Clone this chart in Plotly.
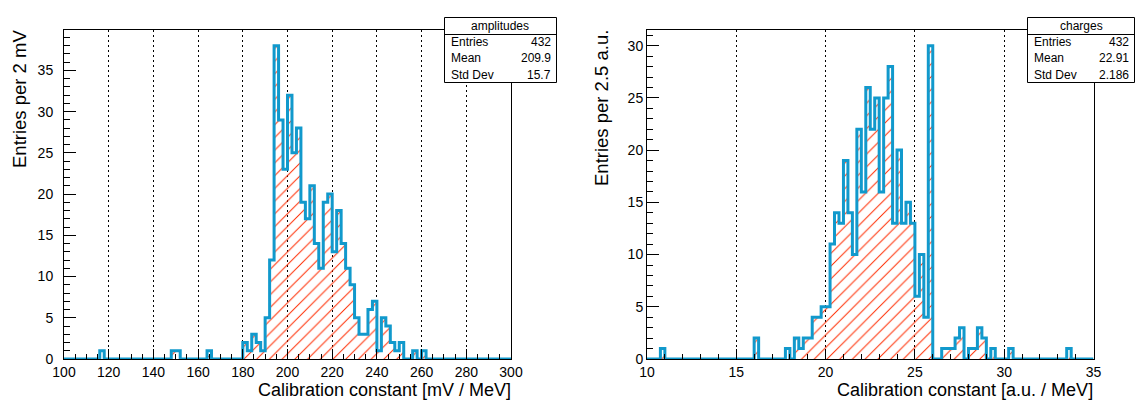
import plotly.graph_objects as go

W, H = 1135, 401
FONT = "Liberation Sans, Arial, Helvetica, sans-serif"
BLUE = "#1199cc"
HATCH = "#ff2a00"

# ---------------- data ----------------
amp_lo = 100.0
amp_bin = 2.0
amp_counts = [
    0, 0, 0, 0, 0, 0, 0, 0, 1, 0,
    0, 0, 0, 0, 0, 0, 0, 0, 0, 0,
    0, 0, 0, 0, 1, 1, 0, 0, 0, 0,
    0, 0, 1, 0, 0, 0, 0, 0, 0, 0,
    2, 1, 3, 2, 1, 5, 12, 38, 29, 23,
    32, 25, 28, 19, 17, 21, 14, 11, 19, 20,
    13, 18, 14, 11, 9, 5, 3, 3, 6, 7,
    1, 5, 4, 2, 1, 2, 0, 0, 1, 0,
    1, 0, 0, 0, 0, 0, 0, 0, 0, 0,
    0, 0, 0, 0, 0, 0, 0, 0, 0, 0,
]
amp_stats = ["amplitudes", "432", "209.9", "15.7"]

chg_lo = 10.0
chg_bin = 0.25
chg_counts = [
    0, 0, 0, 1, 0, 0, 0, 0, 0, 0,
    0, 0, 0, 0, 0, 0, 0, 0, 0, 0,
    0, 0, 0, 0, 2, 0, 0, 0, 0, 0,
    0, 1, 0, 2, 1, 2, 2, 4, 4, 5,
    5, 11, 14, 13, 19, 14, 10, 22, 16, 26,
    22, 25, 16, 25, 28, 13, 20, 13, 15, 13,
    6, 10, 4, 30, 0, 0, 1, 1, 1, 2,
    3, 0, 1, 1, 3, 2, 0, 1, 0, 0,
    0, 1, 0, 0, 0, 0, 0, 0, 0, 0,
    0, 0, 0, 0, 1, 0, 0, 0, 0, 0,
]
chg_stats = ["charges", "432", "22.91", "2.186"]

amp_xtitle = "Calibration constant [mV / MeV]"
amp_ytitle = "Entries per 2 mV"
chg_xtitle = "Calibration constant [a.u. / MeV]"
chg_ytitle = "Entries per 2.5 a.u."
stat_labels = ["Entries", "Mean", "Std Dev"]


def px(p):
    return p / W


def py(p):
    return 1 - p / H


fig = go.Figure()

panels = [
    dict(lo=amp_lo, w=amp_bin, counts=amp_counts, xa="x", ya="y"),
    dict(lo=chg_lo, w=chg_bin, counts=chg_counts, xa="x2", ya="y2"),
]
for p in panels:
    n = len(p["counts"])
    centers = [p["lo"] + (i + 0.5) * p["w"] for i in range(n)]
    fig.add_trace(go.Bar(
        x=centers, y=p["counts"], width=p["w"], xaxis=p["xa"], yaxis=p["ya"],
        marker=dict(color="rgba(255,255,255,0)", line=dict(width=0),
                    pattern=dict(shape="/", fgcolor=HATCH, bgcolor="rgba(255,255,255,0)",
                                 size=9, solidity=0.11, fillmode="replace")),
        hoverinfo="skip", showlegend=False))
    edges = [p["lo"] + i * p["w"] for i in range(n + 1)]
    ys = list(p["counts"]) + [p["counts"][-1]]
    fig.add_trace(go.Scatter(
        x=edges, y=ys, mode="lines", xaxis=p["xa"], yaxis=p["ya"],
        line=dict(shape="hv", color=BLUE, width=3),
        hoverinfo="skip", showlegend=False))

tickfont = dict(family=FONT, size=14, color="black")
base_x = dict(showline=True, linecolor="black", linewidth=1, mirror=True,
              ticks="inside", tickcolor="black", ticklen=10, tickwidth=1,
              showgrid=True, gridcolor="black", gridwidth=1, griddash="2px,3px",
              zeroline=False, tickfont=tickfont, tickmode="linear",
              fixedrange=True, automargin=False)
base_y = dict(showline=True, linecolor="black", linewidth=1, mirror=True,
              ticks="inside", tickcolor="black", ticklen=12, tickwidth=1,
              showgrid=False, zeroline=False, tickfont=tickfont, tickmode="linear",
              tick0=0, dtick=5, fixedrange=True, automargin=False)

top, bot = 30, 359
fig.update_layout(
    width=W, height=H, margin=dict(l=0, r=0, t=0, b=0, autoexpand=False),
    paper_bgcolor="white", plot_bgcolor="white", bargap=0, barmode="overlay",
    xaxis=dict(base_x, domain=[px(64), px(511)], range=[100, 300], tick0=100, dtick=20,
               anchor="y",
               minor=dict(ticks="inside", ticklen=5, tickcolor="black", dtick=5, showgrid=False)),
    yaxis=dict(base_y, domain=[py(bot), py(top)], range=[0, 39.9], anchor="x",
               ticklabelstandoff=7,
               minor=dict(ticks="inside", ticklen=6, tickcolor="black", dtick=1, showgrid=False)),
    xaxis2=dict(base_x, domain=[px(647), px(1093.5)], range=[10, 35], tick0=10, dtick=5,
                anchor="y2",
                minor=dict(ticks="inside", ticklen=5, tickcolor="black", dtick=1, showgrid=False)),
    yaxis2=dict(base_y, domain=[py(bot), py(top)], range=[0, 31.5], anchor="x2",
                ticklabelstandoff=0,
                minor=dict(ticks="inside", ticklen=6, tickcolor="black", dtick=1, showgrid=False)),
)

annotations = []
shapes = []
# axis titles
titlefont = dict(family=FONT, size=18, color="black")
annotations.append(dict(xref="paper", yref="paper", x=px(511.5), y=py(390), text=amp_xtitle,
                        xanchor="right", yanchor="middle", showarrow=False, font=titlefont,
                        borderpad=0))
annotations.append(dict(xref="paper", yref="paper", x=px(1094), y=py(390), text=chg_xtitle,
                        xanchor="right", yanchor="middle", showarrow=False, font=titlefont,
                        borderpad=0))
annotations.append(dict(xref="paper", yref="paper", x=px(19), y=py(28), text=amp_ytitle,
                        textangle=-90, xanchor="center", yanchor="top", showarrow=False,
                        font=dict(titlefont, size=18.5)))
annotations.append(dict(xref="paper", yref="paper", x=px(601), y=py(28), text=chg_ytitle,
                        textangle=-90, xanchor="center", yanchor="top", showarrow=False,
                        font=dict(titlefont, size=18.5)))

# stats boxes
statfont = dict(family=FONT, size=12, color="black")
boxes = [
    dict(x0=444.5, x1=556.5, stats=amp_stats),
    dict(x0=1027.5, x1=1134.5, stats=chg_stats),
]
for b in boxes:
    y0, y1, ysep = 17.5, 82.5, 34.5
    shapes.append(dict(type="rect", xref="paper", yref="paper", x0=px(b["x0"]), x1=px(b["x1"]),
                       y0=py(y1), y1=py(y0), line=dict(color="black", width=1),
                       fillcolor="white", layer="above"))
    shapes.append(dict(type="line", xref="paper", yref="paper", x0=px(b["x0"]), x1=px(b["x1"]),
                       y0=py(ysep), y1=py(ysep), line=dict(color="black", width=1), layer="above"))
    annotations.append(dict(xref="paper", yref="paper", x=px((b["x0"] + b["x1"]) / 2), y=py(26),
                            text=b["stats"][0], xanchor="center", yanchor="middle",
                            showarrow=False, font=statfont))
    for k, lab in enumerate(stat_labels):
        yy = 42 + k * 16.3
        annotations.append(dict(xref="paper", yref="paper", x=px(b["x0"] + 4.5), y=py(yy),
                                text=lab, xanchor="left", yanchor="middle",
                                showarrow=False, font=statfont))
        annotations.append(dict(xref="paper", yref="paper", x=px(b["x1"] - 3.5), y=py(yy),
                                text=b["stats"][k + 1], xanchor="right", yanchor="middle",
                                showarrow=False, font=statfont))

fig.update_layout(annotations=annotations, shapes=shapes)
fig.write_html("out.html", config={"displayModeBar": False, "staticPlot": True},
               post_script="document.body.style.margin='0';document.body.style.overflow='hidden';")
